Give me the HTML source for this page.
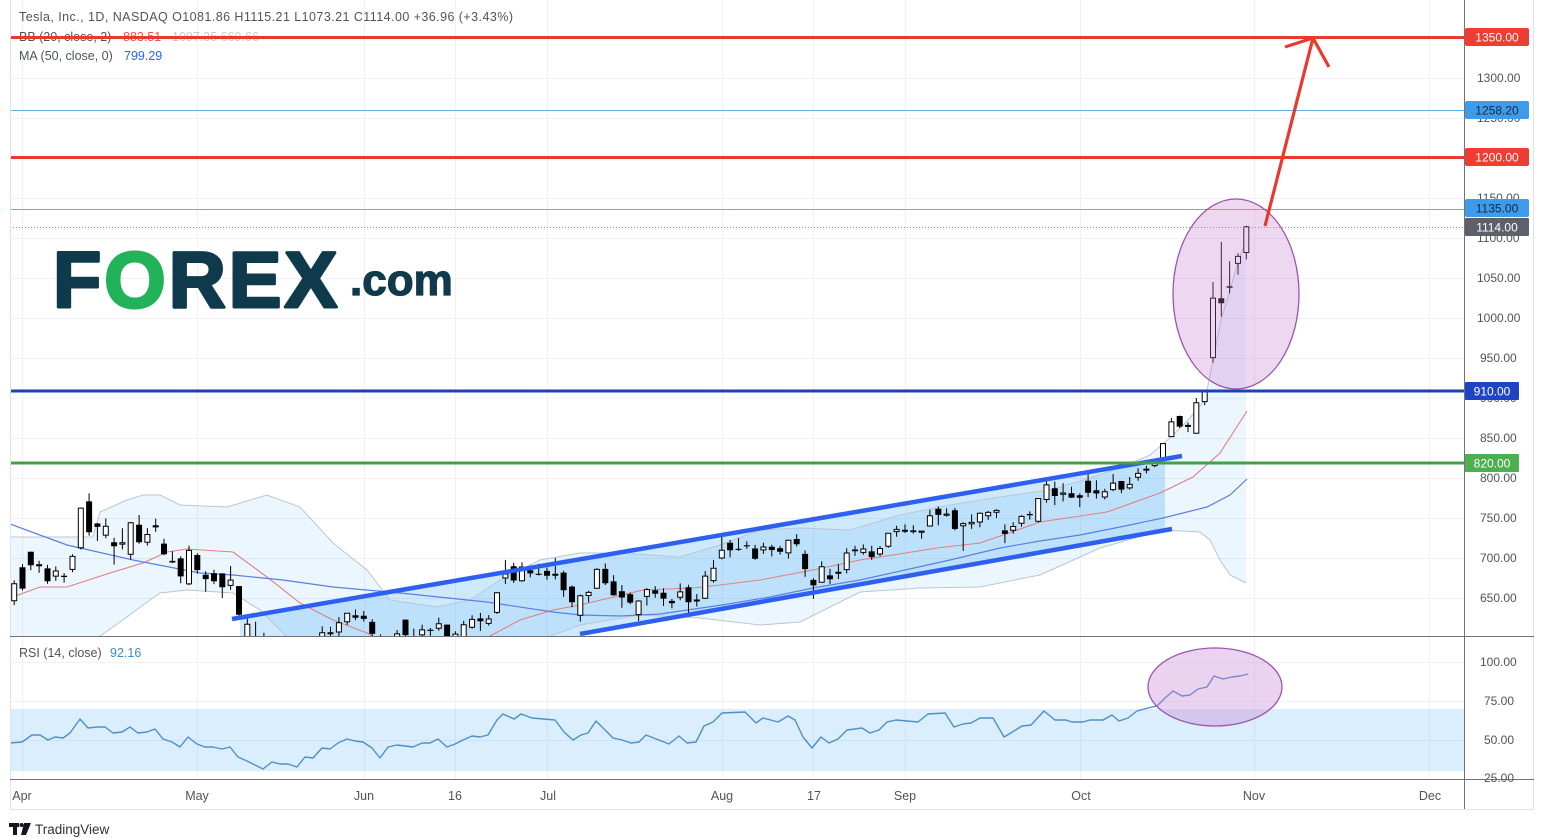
<!DOCTYPE html>
<html><head><meta charset="utf-8">
<style>
html,body{margin:0;padding:0;background:#fff;}
svg{display:block;}
</style></head>
<body>
<svg width="1544" height="838" viewBox="0 0 1544 838" xmlns="http://www.w3.org/2000/svg" font-family="'Liberation Sans', sans-serif">
<defs>
<clipPath id="cp"><rect x="10" y="0" width="1454" height="636"/></clipPath>
<clipPath id="cr"><rect x="10" y="637" width="1454" height="142"/></clipPath>
</defs>
<rect width="1544" height="838" fill="#fff"/>
<!-- grid -->
<g stroke="#eef1f6" stroke-width="1">
<line x1="22.5" y1="0" x2="22.5" y2="779"/>
<line x1="197.5" y1="0" x2="197.5" y2="779"/>
<line x1="364.5" y1="0" x2="364.5" y2="779"/>
<line x1="455.5" y1="0" x2="455.5" y2="779"/>
<line x1="547.5" y1="0" x2="547.5" y2="779"/>
<line x1="722.5" y1="0" x2="722.5" y2="779"/>
<line x1="813.5" y1="0" x2="813.5" y2="779"/>
<line x1="905.5" y1="0" x2="905.5" y2="779"/>
<line x1="1080.5" y1="0" x2="1080.5" y2="779"/>
<line x1="1254.5" y1="0" x2="1254.5" y2="779"/>
<line x1="1429.5" y1="0" x2="1429.5" y2="779"/>
<line x1="10" y1="38.5" x2="1464" y2="38.5"/>
<line x1="10" y1="78.5" x2="1464" y2="78.5"/>
<line x1="10" y1="118.5" x2="1464" y2="118.5"/>
<line x1="10" y1="158.5" x2="1464" y2="158.5"/>
<line x1="10" y1="198.5" x2="1464" y2="198.5"/>
<line x1="10" y1="238.5" x2="1464" y2="238.5"/>
<line x1="10" y1="278.5" x2="1464" y2="278.5"/>
<line x1="10" y1="318.5" x2="1464" y2="318.5"/>
<line x1="10" y1="358.5" x2="1464" y2="358.5"/>
<line x1="10" y1="398.5" x2="1464" y2="398.5"/>
<line x1="10" y1="438.5" x2="1464" y2="438.5"/>
<line x1="10" y1="478.5" x2="1464" y2="478.5"/>
<line x1="10" y1="518.5" x2="1464" y2="518.5"/>
<line x1="10" y1="558.5" x2="1464" y2="558.5"/>
<line x1="10" y1="598.5" x2="1464" y2="598.5"/>
<line x1="10" y1="662.5" x2="1464" y2="662.5"/>
<line x1="10" y1="701.5" x2="1464" y2="701.5"/>
<line x1="10" y1="740.5" x2="1464" y2="740.5"/>
</g>
<!-- RSI band -->
<rect x="10" y="709" width="1454" height="62" fill="#2196f3" fill-opacity="0.16"/>

<!-- Bollinger fill -->
<polygon clip-path="url(#cp)" fill="#2196f3" fill-opacity="0.09" points="10,537 93,537 100,512 127,500 143,495 160,495 180,505 227,507 267,495 300,507 333,543 367,570 390,600 437,607 470,600 500,580 540,560 580,553 620,553 680,557 720,545 760,530 800,528 850,530 900,515 950,505 1000,497 1050,490 1090,478 1120,468 1150,455 1171,437 1188,420 1205,400 1213,360 1221,320 1230,290 1238,262 1246,240 1246,583 1230,575 1220,560 1210,540 1200,532 1163,530 1100,548 1040,575 980,587 920,588 860,592 800,622 760,625 700,618 640,615 580,625 540,640 500,662 300,662 290,640 260,610 233,593 187,590 160,593 143,605 120,622 100,636 60,645 10,650"/>
<!-- channel fill -->
<polygon clip-path="url(#cp)" points="240,617.6 1165,459 1165,530.2 580,634 580,640 240,640" fill="#2196f3" fill-opacity="0.22"/>
<!-- BB lines, basis, MA50 -->
<g clip-path="url(#cp)" fill="none">
<polyline stroke="#b9c6d6" stroke-width="1" points="10,537 93,537 100,512 127,500 143,495 160,495 180,505 227,507 267,495 300,507 333,543 367,570 390,600 437,607 470,600 500,580 540,560 580,553 620,553 680,557 720,545 760,530 800,528 850,530 900,515 950,505 1000,497 1050,490 1090,478 1120,468 1150,455 1171,437 1188,420 1205,400 1213,360 1221,320 1230,290 1238,262 1246,240"/>
<polyline stroke="#b9c6d6" stroke-width="1" points="1246,583 1230,575 1220,560 1210,540 1200,532 1163,530 1100,548 1040,575 980,587 920,588 860,592 800,622 760,625 700,618 640,615 580,625 540,640 500,662 300,662 290,640 260,610 233,593 187,590 160,593 143,605 120,622 100,636 60,645 10,650"/>
<polyline stroke="#e08080" stroke-width="1.1" points="10,598 40,587 67,587 110,573 143,563 167,552 187,549 233,552 267,577 300,603 333,620 367,633 385,645 470,645 490,636 520,620 553,610 580,605 643,590 693,588 720,585 760,580 813,570 860,560 893,555 937,548 980,543 1040,522 1107,512 1160,493 1193,477 1220,453 1247,411"/>
<polyline stroke="#5b7fe3" stroke-width="1.2" points="10,524 67,545 133,560 200,573 233,575 283,580 333,587 400,593 487,602 553,612 580,615 620,616 660,614 722,605 770,597 813,588 860,580 905,570 950,560 1000,548 1040,541 1080,535 1120,527 1163,518 1207,507 1230,495 1247,479"/>
</g>

<!-- candles -->
<g clip-path="url(#cp)">
<path fill="none" stroke="#000" stroke-width="1" d="M14.2,580.4V605.1M22.5,564.1V590.5M30.8,551.5V570.2M39.1,560.8V572.9M47.5,564.9V583.7M55.8,566.4V580.7M64.1,573.2V582.5M72.5,554.2V572.3M80.8,507.6V549.5M89.1,493.4V535.6M97.4,523V541M105.8,518.5V538.3M114.1,537.7V564.6M122.4,528.2V549.4M130.7,522.1V559.6M139.1,515V543.6M147.4,528.1V545.6M155.7,518.6V531.9M164,538.8V555.3M172.4,551.2V563.1M180.7,556.2V583.2M189,545.6V585.1M197.3,553.2V573.6M205.7,571.2V591.8M214,569.8V584.1M222.3,573.2V598M230.6,566V589.8M239,586V615.9M247.3,616.3V641.5M255.6,621.7V648.6M263.9,632.8V650M322.2,626.4V650M330.5,626.8V641.4M338.9,617.1V636.8M347.2,613.1V625M355.5,609.5V620.1M363.8,611V621.6M372.2,619.3V638.7M380.5,634.4V650M397.1,630V650M405.5,619.5V650M413.8,628.6V650M422.1,624.7V650M430.4,628V636.8M438.8,617.6V630.7M447.1,624.6V650M455.4,631.2V650M463.7,620.8V636.9M472.1,615.3V628.6M480.4,612.9V630.9M488.7,615.1V625.6M497,592.2V614M505.4,559.9V583.9M513.7,563V583M522,562.2V581.7M530.3,568V577.3M538.7,563.8V575.5M547,567.6V579.8M555.3,558V579.4M563.6,570.8V596.9M572,585.4V607.3M580.3,594.5V621.6M588.6,590.9V602.2M596.9,568.2V588.3M605.3,563.4V585M613.6,575.1V595.7M621.9,585.1V607.7M630.2,592.6V604.2M638.6,600.2V621M646.9,588.1V605.6M655.2,586.1V597.8M663.5,588.3V606M671.9,599V608.2M680.2,583.4V600.3M688.5,584.8V616.2M696.8,594V606.5M705.2,571V599M713.5,560V582.8M721.8,536.4V559.3M730.1,539.9V557.2M738.5,538.1V550.9M746.8,541.2V548.9M755.1,544.9V559.9M763.4,542.8V553.9M771.8,544.7V556.5M780.1,545.9V554.6M788.4,539.8V558.5M796.7,534.1V546.5M805.1,550.4V576.9M813.4,578.3V598.9M821.7,561.4V582.5M830,568.8V583.9M838.4,564.3V579M846.7,548.3V573.4M855,545.8V555.9M863.3,544.4V554.8M871.7,545.7V559.9M880,546V556.3M888.3,533.2V547.8M896.6,525.7V536.8M905,524.4V533M913.3,525.2V533.6M921.6,530.8V538.6M929.9,509.8V526.6M938.3,506.4V525.4M946.6,508.3V516.7M954.9,507.9V530.4M963.2,522.2V550.9M971.6,514.4V528.9M979.9,512.5V527.3M988.2,510.9V519.9M996.5,509.2V518M1004.9,524.4V543.1M1013.2,522.2V533.6M1021.5,515.1V526.7M1029.8,511.4V519.7M1038.2,498.2V522.4M1046.5,478.8V502.6M1054.8,481.5V505.1M1063.1,483.2V501.5M1071.5,486.7V498M1079.8,493.4V507.1M1088.1,472.4V497.1M1096.4,480.2V498.6M1104.8,488.7V499.4M1113.1,474V491.3M1121.4,480.9V493.3M1129.7,477V489.6M1138.1,468.1V480.7M1146.4,465.7V473.4M1154.7,461.8V467.3M1163,443.4V460.1M1171.4,418V436.8M1179.7,415.6V428M1188,422.4V432.1M1196.3,398V433.6M1204.7,390V405.2M1213,282V362.6M1221.3,242V316.8M1229.6,261.3V293.4M1238,253.2V274.6M1246.3,225.8V259.4"/>
<path fill="#fff" stroke="#000" stroke-width="1" d="M11.7,583.7h5v17h-5zM36.6,564.7h5v1.1h-5zM53.3,571h5v5.1h-5zM70,556.4h5v13h-5zM78.3,508.1h5v39.7h-5zM103.3,526.2h5v8.9h-5zM119.9,542.8h5v1.3h-5zM128.2,522.7h5v31.5h-5zM144.9,534.5h5v7.7h-5zM186.5,550.4h5v33.5h-5zM228.1,580.1h5v5.3h-5zM244.8,624.2h5v14.4h-5zM319.7,632.8h5v20h-5zM336.4,622.7h5v9.3h-5zM344.7,613.3h5v8.5h-5zM394.6,633.9h5v20h-5zM419.6,629.9h5v5h-5zM436.3,623.8h5v4.4h-5zM452.9,634.1h5v20h-5zM461.2,624.7h5v11.8h-5zM469.6,619.4h5v7.9h-5zM486.2,619h5v4.4h-5zM494.5,592.7h5v19.7h-5zM502.9,574.1h5v3.9h-5zM519.5,567h5v13.7h-5zM552.8,574.3h5v1h-5zM577.8,595.8h5v19.5h-5zM586.1,592.4h5v3.1h-5zM594.4,569.4h5v18.8h-5zM636.1,601h5v13.6h-5zM644.4,589.6h5v6.8h-5zM677.7,591.9h5v5.3h-5zM694.3,600h5v1h-5zM702.7,576.1h5v22.1h-5zM711,568.2h5v12.4h-5zM719.3,550.3h5v7.7h-5zM760.9,547h5v2.9h-5zM785.9,540.2h5v12.7h-5zM819.2,566.8h5v15.4h-5zM844.2,553h5v16.6h-5zM860.8,549h5v3.4h-5zM877.5,548.5h5v5.5h-5zM885.8,533.3h5v12.9h-5zM894.1,529.4h5v2.2h-5zM902.5,530.2h5v1h-5zM919.1,531.1h5v1.1h-5zM927.4,515.7h5v10.3h-5zM944.1,514.1h5v1.2h-5zM960.7,523.6h5v2.2h-5zM969.1,522.4h5v1.5h-5zM977.4,513.3h5v8.7h-5zM985.7,512.4h5v3.3h-5zM994,510.4h5v1.9h-5zM1010.7,526.5h5v3.7h-5zM1019,516.4h5v6.8h-5zM1035.7,498.5h5v22.8h-5zM1044,484.9h5v14.6h-5zM1060.6,493h5v1.2h-5zM1102.3,491.8h5v5.2h-5zM1110.6,483.1h5v6.5h-5zM1127.2,484.4h5v3.5h-5zM1135.6,473.4h5v3.9h-5zM1143.9,469.1h5v1h-5zM1152.2,463.3h5v2.3h-5zM1160.5,443.6h5v15.4h-5zM1168.9,421.9h5v14.7h-5zM1185.5,425.4h5v1h-5zM1193.8,402.8h5v30.4h-5zM1202.2,390.3h5v11.3h-5zM1210.5,298.1h5v59.5h-5zM1235.5,256.4h5v7h-5zM1243.8,226.8h5v25.7h-5z"/>
<path fill="#000" d="M19.5,567.3h6v21.3h-6zM27.8,551.8h6v13.4h-6zM44.5,568.4h6v12.8h-6zM61.1,575.8h6v1.2h-6zM86.1,501.4h6v30.8h-6zM94.4,523.5h6v3.4h-6zM111.1,542.3h6v4h-6zM136.1,524.8h6v17.4h-6zM152.7,525.2h6v2.2h-6zM161,543.6h6v10.6h-6zM169.4,560.9h6v1.6h-6zM177.7,558.4h6v18h-6zM194.3,555h6v15.1h-6zM202.7,574.8h6v4.3h-6zM211,573.2h6v8h-6zM219.3,573.4h6v13.8h-6zM236,586.1h6v28.7h-6zM327.5,632.2h6v2h-6zM352.5,615.2h6v2.6h-6zM360.8,615.8h6v3.1h-6zM369.2,621.9h6v12h-6zM402.5,619.6h6v15.5h-6zM427.4,629.8h6v1.2h-6zM444.1,624.6h6v13.9h-6zM477.4,618.4h6v2.9h-6zM510.7,566.3h6v14.2h-6zM527.3,570.3h6v3.1h-6zM535.7,573.7h6v1.2h-6zM544,570.9h6v4.8h-6zM560.6,572.6h6v17.7h-6zM569,586.6h6v15.7h-6zM602.3,568.9h6v14.3h-6zM610.6,581.4h6v13.9h-6zM618.9,591.3h6v6.2h-6zM627.2,594.3h6v8.3h-6zM652.2,590.3h6v3.5h-6zM660.5,592.8h6v5.8h-6zM668.9,600.9h6v2.4h-6zM685.5,587.3h6v14.9h-6zM727.1,542.8h6v7.4h-6zM735.5,548.7h6v1.2h-6zM743.8,545.2h6v1.2h-6zM752.1,548.5h6v10.2h-6zM768.8,546.8h6v3.2h-6zM777.1,548.2h6v3.5h-6zM793.7,539h6v5.3h-6zM802.1,553.9h6v15.2h-6zM810.4,579.9h6v5.5h-6zM827,575.4h6v3.8h-6zM835.4,571.7h6v2.1h-6zM852,549.5h6v1.7h-6zM868.7,551.4h6v5.7h-6zM910.3,530.4h6v1.7h-6zM935.3,508.7h6v6.2h-6zM951.9,510.3h6v18.7h-6zM1001.9,530.4h6v3.5h-6zM1026.8,514h6v1.2h-6zM1051.8,488.2h6v7.8h-6zM1068.5,493.2h6v4.4h-6zM1076.8,495.3h6v2.5h-6zM1085.1,480.8h6v12h-6zM1093.4,490.2h6v3.3h-6zM1118.4,481h6v8.6h-6zM1176.7,416h6v10.6h-6zM1218.3,298.2h6v5.1h-6zM1226.6,286.3h6v1.4h-6z"/>
</g>

<!-- channel lines -->
<g stroke="#2d5ff0" stroke-width="4.5" clip-path="url(#cp)">
<line x1="232" y1="619" x2="1182" y2="456"/>
<line x1="580" y1="634" x2="1172" y2="529"/>
</g>

<!-- legend -->
<text x="19" y="21" font-size="12.5" fill="#50535e" textLength="494">Tesla, Inc., 1D, NASDAQ  O1081.86  H1115.21  L1073.21  C1114.00  +36.96 (+3.43%)</text>
<text x="19" y="41" font-size="12.5" fill="#50535e">BB (20, close, 2)</text>
<text x="123" y="41" font-size="12.5" fill="#ef5350">883.51</text>
<text x="172" y="41" font-size="12.5" fill="#c9c9d0">1097.35  669.66</text>
<text x="19" y="60" font-size="12.5" fill="#50535e">MA (50, close, 0)</text>
<text x="124" y="60" font-size="12.5" fill="#2962ff">799.29</text>

<!-- FOREX logo -->
<text x="53" y="307" font-size="79" font-weight="bold" fill="#0e3a4c" stroke="#0e3a4c" stroke-width="3" stroke-linejoin="round" letter-spacing="3">F<tspan fill="#22b35a" stroke="#22b35a">O</tspan>REX</text>
<text x="350" y="295" font-size="44" font-weight="bold" fill="#0e3a4c" stroke="#0e3a4c" stroke-width="1.2">.com</text>

<!-- level lines -->
<line x1="10" y1="37.5" x2="1464" y2="37.5" stroke="#e8392f" stroke-width="3"/>
<line x1="10" y1="110.5" x2="1464" y2="110.5" stroke="#64b0e4" stroke-width="1"/>
<line x1="10" y1="157.5" x2="1464" y2="157.5" stroke="#e8392f" stroke-width="3"/>
<line x1="10" y1="209.5" x2="1464" y2="209.5" stroke="#64b0e4" stroke-width="1"/>
<line x1="10" y1="227.5" x2="1464" y2="227.5" stroke="#8a8d96" stroke-width="1" stroke-dasharray="1,2"/>
<line x1="10" y1="391" x2="1464" y2="391" stroke="#1e40b4" stroke-width="3"/>
<line x1="10" y1="463" x2="1464" y2="463" stroke="#43a047" stroke-width="3"/>

<!-- ellipse -->
<ellipse cx="1236" cy="294" rx="63" ry="95" fill="#c77dd1" fill-opacity="0.3" stroke="#9a55ad" stroke-width="1.3"/>
<!-- arrow -->
<polyline points="1265,226 1313,38" fill="none" stroke="#e8392f" stroke-width="3.2"/>
<polyline points="1285,47 1313,38 1329,67" fill="none" stroke="#e8392f" stroke-width="3.2"/>

<!-- RSI -->
<polyline clip-path="url(#cr)" fill="none" stroke="#4f8fc9" stroke-width="1.4" stroke-linejoin="round" points="10,743 22,742 32,735 40,735 48,740 55,737 63,738 70,733 80,719 88,728 97,727 105,727 113,733 122,732 130,727 138,733 147,732 155,729 163,739 172,742 180,747 188,737 197,744 205,747 213,747 222,749 230,747 238,757 247,761 255,765 263,769 272,762 280,764 288,764 297,767 305,757 313,758 322,748 330,749 338,743 347,739 355,741 363,742 372,748 380,758 388,747 397,745 405,746 413,747 422,743 430,743 438,739 447,747 455,744 463,740 472,736 480,737 488,735 497,720 503,714 514,719 521,714 532,718 555,720 564,732 573,740 581,735 588,733 596,721 613,738 622,740 631,743 639,742 646,735 669,744 679,736 687,743 696,742 704,726 713,722 722,713 745,712 756,723 763,718 778,722 788,716 795,720 803,737 812,748 821,737 829,743 838,739 847,730 862,728 870,733 879,730 887,722 896,720 918,722 928,714 945,713 954,727 963,724 971,723 980,718 993,718 1004,737 1014,731 1022,726 1031,725 1044,711 1055,720 1066,720 1072,722 1083,722 1090,720 1103,720 1112,715 1119,721 1128,718 1137,711 1148,708 1157,706 1165,698 1173,691 1182,696 1190,695 1198,689 1207,687 1214,676 1223,679 1232,677 1240,676 1248,674"/>
<ellipse cx="1215" cy="687" rx="67" ry="39" fill="#c77dd1" fill-opacity="0.35" stroke="#9a55ad" stroke-width="1.3"/>
<text x="19" y="657" font-size="12.5" fill="#50535e">RSI (14, close)</text>
<text x="110" y="657" font-size="12.5" fill="#3f88c5">92.16</text>

<!-- frame / axes -->
<line x1="10.5" y1="0" x2="10.5" y2="809" stroke="#e0e3eb"/>
<line x1="1533.5" y1="0" x2="1533.5" y2="809" stroke="#e0e3eb"/>
<line x1="10" y1="809.5" x2="1534" y2="809.5" stroke="#e0e3eb"/>
<line x1="1464.5" y1="0" x2="1464.5" y2="809" stroke="#6f727b"/>
<line x1="10" y1="636.5" x2="1534" y2="636.5" stroke="#6f727b"/>
<line x1="10" y1="779.5" x2="1534" y2="779.5" stroke="#6f727b"/>

<!-- price labels -->
<g font-size="12" fill="#50535e">
<text x="1477" y="82">1300.00</text>
<text x="1477" y="122">1250.00</text>
<text x="1477" y="202">1150.00</text>
<text x="1477" y="242">1100.00</text>
<text x="1477" y="282">1050.00</text>
<text x="1477" y="322">1000.00</text>
<text x="1480" y="362">950.00</text>
<text x="1480" y="402">900.00</text>
<text x="1480" y="442">850.00</text>
<text x="1480" y="482">800.00</text>
<text x="1480" y="522">750.00</text>
<text x="1480" y="562">700.00</text>
<text x="1480" y="602">650.00</text>
<text x="1480" y="666">100.00</text>
<text x="1484" y="705">75.00</text>
<text x="1484" y="744">50.00</text>
<text x="1484" y="782">25.00</text>
</g>
<!-- label boxes -->
<g font-size="12">
<rect x="1465" y="28" width="64" height="18" rx="2" fill="#ef3d33"/>
<text x="1497" y="41.5" text-anchor="middle" fill="#fff">1350.00</text>
<rect x="1465" y="101" width="64" height="18" rx="2" fill="#3d9be9"/>
<text x="1497" y="114.5" text-anchor="middle" fill="#0d2a4a">1258.20</text>
<rect x="1465" y="148" width="64" height="18" rx="2" fill="#ef3d33"/>
<text x="1497" y="161.5" text-anchor="middle" fill="#fff">1200.00</text>
<rect x="1465" y="199" width="64" height="18" rx="2" fill="#3d9be9"/>
<text x="1497" y="212.5" text-anchor="middle" fill="#0d2a4a">1135.00</text>
<rect x="1465" y="218" width="64" height="18" rx="1" fill="#5d606b"/>
<text x="1497" y="231.5" text-anchor="middle" fill="#fff">1114.00</text>
<rect x="1465" y="382" width="54" height="18" rx="1" fill="#1d44c4"/>
<text x="1492" y="395.5" text-anchor="middle" fill="#fff">910.00</text>
<rect x="1465" y="454" width="54" height="18" rx="1" fill="#4caf50"/>
<text x="1492" y="467.5" text-anchor="middle" fill="#fff">820.00</text>
</g>

<!-- time labels -->
<g font-size="12.5" fill="#50535e" text-anchor="middle">
<text x="22" y="800">Apr</text>
<text x="197" y="800">May</text>
<text x="364" y="800">Jun</text>
<text x="455" y="800">16</text>
<text x="548" y="800">Jul</text>
<text x="722" y="800">Aug</text>
<text x="814" y="800">17</text>
<text x="905" y="800">Sep</text>
<text x="1081" y="800">Oct</text>
<text x="1254" y="800">Nov</text>
<text x="1430" y="800">Dec</text>
</g>

<!-- TradingView logo -->
<g fill="#131722">
<rect x="9" y="823" width="10" height="4"/>
<rect x="13" y="823" width="4" height="12"/>
<circle cx="21.5" cy="825" r="2"/>
<polygon points="24,823 31,823 26,835 21,835"/>
</g>
<text x="35" y="834" font-size="13.5" fill="#333">TradingView</text>
</svg>
</body></html>
